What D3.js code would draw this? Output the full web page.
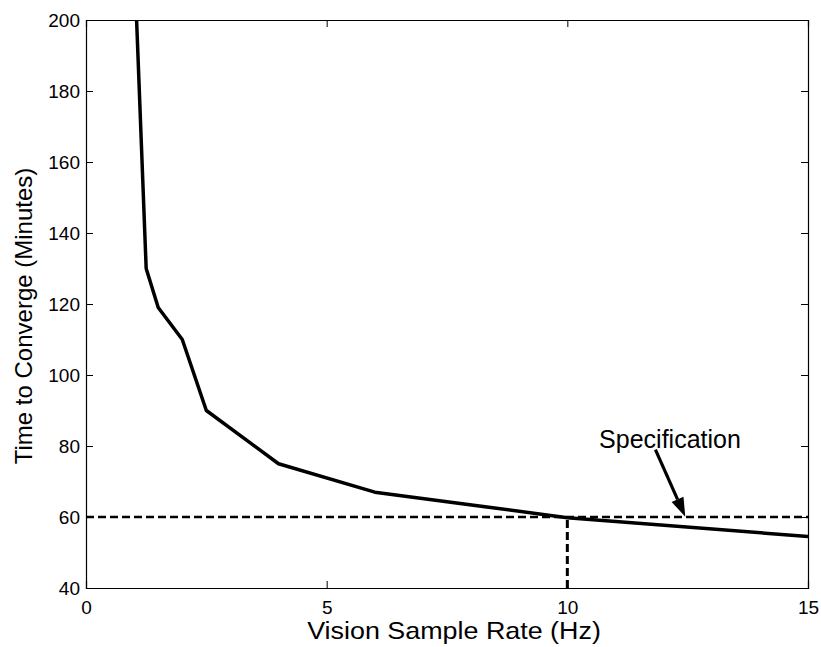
<!DOCTYPE html>
<html>
<head>
<meta charset="utf-8">
<script src="https://cdn.jsdelivr.net/npm/d3@7"></script>
<style>
  body { margin: 0; background: #fff; }
  text { font-family: "Liberation Sans", Arial, sans-serif; fill: #000; }
</style>
</head>
<body>
<div id="chart"></div>
<script>
// data
const rate = [1, 1.25, 1.5, 2, 2.5, 4, 6, 10, 15];
const minutes = [218, 130, 119, 110, 90, 75, 67, 59.8, 54.5];
const specValue = 60;
const specRate = 10;
const xTicks = [0, 5, 10, 15];
const yTicks = [40, 60, 80, 100, 120, 140, 160, 180, 200];

const width = 821;
const height = 647;
const margin = {top: 20, right: 13, bottom: 59, left: 86};

const svg = d3.select('#chart')
    .append('svg')
    .attr('width', width)
    .attr('height', height);

const x = d3.scaleLinear().domain([0, 15]).range([margin.left, width - margin.right]);
const y = d3.scaleLinear().domain([40, 200]).range([height - margin.bottom, margin.top]);

svg.append('clipPath')
    .attr('id', 'plotClip')
  .append('rect')
    .attr('x', margin.left)
    .attr('y', margin.top)
    .attr('width', x(15) - x(0))
    .attr('height', y(40) - y(200));

// axes, ticks pointing inward like matlab
const tickLen = 7;
const xBottom = d3.axisBottom(x).tickValues(xTicks).tickSize(-tickLen).tickPadding(13);
const xTop = d3.axisTop(x).tickValues(xTicks).tickSize(-tickLen).tickFormat('');
const yLeft = d3.axisLeft(y).tickValues(yTicks).tickSize(-tickLen).tickPadding(12);
const yRight = d3.axisRight(y).tickValues(yTicks).tickSize(-tickLen).tickFormat('');

function styleAxis(g) {
  g.selectAll('path').attr('stroke', '#000').attr('stroke-width', 1.2);
  g.selectAll('line').attr('stroke', '#000').attr('stroke-width', 1);
  g.selectAll('text').style('font-size', '19px').attr('fill', '#000');
}

svg.append('g')
    .attr('transform', 'translate(0,' + y(40) + ')')
    .call(xBottom)
    .call(styleAxis);
svg.append('g')
    .attr('transform', 'translate(0,' + y(200) + ')')
    .call(xTop)
    .call(styleAxis);
svg.append('g')
    .attr('transform', 'translate(' + x(0) + ',0)')
    .call(yLeft)
    .call(styleAxis)
    .selectAll('text').attr('dx', '6px');
svg.append('g')
    .attr('transform', 'translate(' + x(15) + ',0)')
    .call(yRight)
    .call(styleAxis);

// specification lines
svg.append('line')
    .attr('x1', x(0)).attr('x2', x(15))
    .attr('y1', y(specValue)).attr('y2', y(specValue))
    .attr('stroke', '#000')
    .attr('stroke-width', 2.5)
    .attr('stroke-dasharray', '8,4');
svg.append('line')
    .attr('x1', x(specRate)).attr('x2', x(specRate))
    .attr('y1', y(40)).attr('y2', y(specValue))
    .attr('stroke', '#000')
    .attr('stroke-width', 3)
    .attr('stroke-dasharray', '8,4');

// the curve
const line = d3.line()
    .x((d, i) => x(rate[i]))
    .y(d => y(d));

svg.append('path')
    .datum(minutes)
    .attr('clip-path', 'url(#plotClip)')
    .attr('d', line)
    .attr('fill', 'none')
    .attr('stroke', '#000')
    .attr('stroke-width', 3.5)
    .attr('stroke-linejoin', 'round');

// annotation
svg.append('text')
    .attr('x', x(10.66))
    .attr('y', y(79.4))
    .style('font-size', '25px')
    .text('Specification');

const ax1 = x(11.83), ay1 = y(79.0);
const ax2 = x(12.45), ay2 = y(60.1);
const ang = Math.atan2(ay2 - ay1, ax2 - ax1);
const headLen = 19, headW = 6.5;
const bx = ax2 - headLen * Math.cos(ang), by = ay2 - headLen * Math.sin(ang);

svg.append('line')
    .attr('x1', ax1).attr('y1', ay1)
    .attr('x2', bx).attr('y2', by)
    .attr('stroke', '#000')
    .attr('stroke-width', 3.2);
svg.append('path')
    .attr('d', 'M' + ax2 + ',' + ay2 +
      'L' + (bx + headW * Math.sin(ang)) + ',' + (by - headW * Math.cos(ang)) +
      'L' + (bx - headW * Math.sin(ang)) + ',' + (by + headW * Math.cos(ang)) + 'Z')
    .attr('fill', '#000');

// axis labels
const xLabelCx = 454;
const xStretch = 1.12;
svg.append('text')
    .attr('x', 0)
    .attr('y', 0)
    .attr('text-anchor', 'middle')
    .style('font-size', '24px')
    .attr('transform', 'translate(' + xLabelCx + ',639) scale(' + xStretch + ',1)')
    .text('Vision Sample Rate (Hz)');

svg.append('text')
    .attr('transform', 'translate(32,' + ((y(40) + y(200)) / 2 + 12) + ') rotate(-90)')
    .attr('text-anchor', 'middle')
    .style('font-size', '24px')
    .text('Time to Converge (Minutes)');
</script>
</body>
</html>
